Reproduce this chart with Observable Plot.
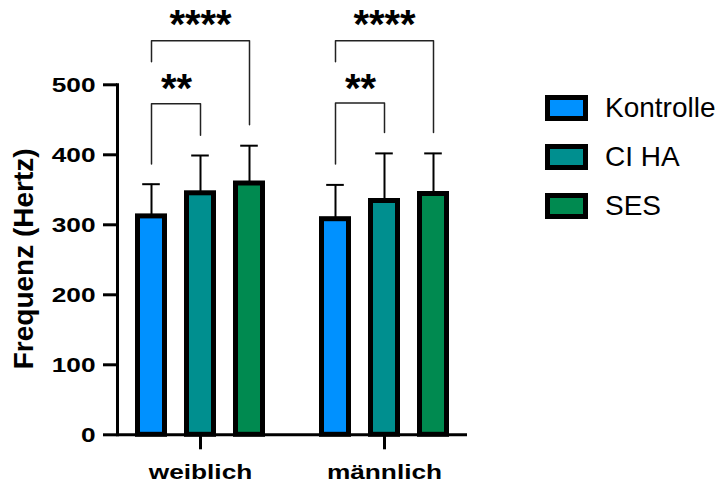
<!DOCTYPE html>
<html><head><meta charset="utf-8">
<script src="https://cdn.jsdelivr.net/npm/d3@7"></script>
<script src="https://cdn.jsdelivr.net/npm/@observablehq/plot@0.6"></script>
<style>
html,body{margin:0;padding:0;background:#fff;}
#wrap{position:relative;width:719px;height:487px;font-family:"Liberation Sans",Arial,sans-serif;overflow:hidden;}
#wrap svg{position:absolute;left:0;top:0;}
.lrow{position:absolute;display:flex;align-items:center;height:26px;white-space:nowrap;}
.sw{box-sizing:border-box;width:43px;height:26px;border:5px solid #000;}
.lt{font-size:28px;line-height:26px;margin-left:17px;color:#000;}
</style></head><body><div id="wrap"></div>
<script>
// ---- data ----
const groups = ["weiblich", "männlich"];
const series = ["Kontrolle", "CI HA", "SES"];
const colors = ["#0091ff", "#008f8f", "#008a50"];
const meanWeiblich = [312, 345, 359];
const sdWeiblich = [46, 54, 54];
const meanMaennlich = [308, 334, 344];
const sdMaennlich = [49, 68, 58];
const yTicks = [0, 100, 200, 300, 400, 500];
const yLabel = "Frequenz (Hertz)";
// significance brackets
const bracketGroup = ["weiblich", "weiblich", "männlich", "männlich"];
const bracketFrom = ["Kontrolle", "Kontrolle", "Kontrolle", "Kontrolle"];
const bracketTo = ["CI HA", "SES", "CI HA", "SES"];
const bracketTop = [473, 563, 474, 563];
const bracketFromEnd = [387, 533, 387, 533];
const bracketToEnd = [428, 443, 432, 432];
const bracketLabel = ["**", "****", "**", "****"];
const bracketLabelY = [494, 585, 494, 585];

// ---- derived tables ----
const rows = [];
groups.forEach((g, gi) => series.forEach((s, si) => {
  const m = gi === 0 ? meanWeiblich[si] : meanMaennlich[si];
  const sd = gi === 0 ? sdWeiblich[si] : sdMaennlich[si];
  rows.push({group: g, series: s, mean: m, upper: m + sd});
}));
const bracketPts = [];
bracketGroup.forEach((g, i) => {
  bracketPts.push(
    {id: i, group: g, x: bracketFrom[i], y: bracketFromEnd[i]},
    {id: i, group: g, x: bracketFrom[i], y: bracketTop[i]},
    {id: i, group: g, x: bracketTo[i], y: bracketTop[i]},
    {id: i, group: g, x: bracketTo[i], y: bracketToEnd[i]});
});
const labels = bracketGroup.map((g, i) => {
  const a = series.indexOf(bracketFrom[i]), b = series.indexOf(bracketTo[i]);
  const mid = (a + b) / 2;
  return {group: g, x: series[Math.floor(mid)], half: mid % 1 !== 0, y: bracketLabelY[i], text: bracketLabel[i]};
});

// ---- layout ----
const W = 719, H = 487;
const ML = 116.5, MR = 252.5, MT = 84.3, MB = 52.7;
const FX_PAD = 18 / 184;
const X_PI = 0.452, X_PO = 0.386;
const fxStep = (W - ML - MR) / (groups.length - FX_PAD);
const facetBand = fxStep * (1 - FX_PAD);
const STEP = facetBand / (series.length - X_PI + 2 * X_PO);
const GAP = fxStep - facetBand;

const font = '"Liberation Sans", Arial, sans-serif';
const chart = Plot.plot({
  width: W, height: H,
  marginLeft: ML, marginRight: MR, marginTop: MT, marginBottom: MB,
  style: {fontFamily: font, color: "#000", background: "transparent", overflow: "visible"},
  fx: {domain: groups, paddingInner: FX_PAD, paddingOuter: 0, label: null},
  x: {domain: series, paddingInner: X_PI, paddingOuter: X_PO, axis: null},
  y: {domain: [0, 500]},
  color: {domain: series, range: colors},
  marks: [
    Plot.ruleY([{group: groups[0]}], {fx: "group", y: () => 0, stroke: "#000", strokeWidth: 3, insetRight: -GAP}),
    Plot.ruleY([{group: groups[1]}], {fx: "group", y: () => 0, stroke: "#000", strokeWidth: 3}),
    Plot.frame({anchor: "left", facetAnchor: "left", stroke: "#000", strokeWidth: 3}),
    Plot.axisY({ticks: yTicks, tickSize: 14, tickPadding: 8, strokeWidth: 3, label: null, fontSize: 21, fontWeight: "bold"}),
    Plot.axisFx({anchor: "bottom", tickSize: 15, tickPadding: 14, strokeWidth: 3, label: null, fontSize: 21, fontWeight: "bold"}),
    Plot.text([{group: groups[0], t: yLabel}], {fx: "group", text: "t", frameAnchor: "left", textAnchor: "middle", rotate: -90, dx: -93, dy: -1, fontSize: 28, fontWeight: "bold", fill: "#000", lineAnchor: "middle"}),
    Plot.ruleX(rows, {fx: "group", x: "series", y1: "mean", y2: "upper", stroke: "#000", strokeWidth: 2}),
    Plot.tickY(rows, {fx: "group", x: "series", y: "upper", stroke: "#000", strokeWidth: 2, inset: 4.7}),
    Plot.barY(rows, {fx: "group", x: "series", y: "mean", fill: "series", stroke: "#000", strokeWidth: 5}),
    Plot.line(bracketPts, {fx: "group", x: "x", y: "y", z: "id", stroke: "#222", strokeWidth: 1.5}),
    Plot.text(labels.filter(d => d.half), {fx: "group", x: "x", y: "y", text: "text", dx: STEP / 2, fontSize: 40, fontWeight: "bold", fill: "#000"}),
    Plot.text(labels.filter(d => !d.half), {fx: "group", x: "x", y: "y", text: "text", fontSize: 40, fontWeight: "bold", fill: "#000"})
  ]
});
const wrap = document.getElementById("wrap");
wrap.appendChild(chart);

// bold axis labels, horizontally widened as in the reference
function stretch(sel, k) {
  chart.querySelectorAll(sel).forEach(t => {
    t.style.fontWeight = "bold";
    t.style.fontSize = "21px";
    const tr = t.getAttribute("transform") || "";
    t.setAttribute("transform", `${tr} scale(${k},1)`);
  });
}
stretch('g[aria-label="y-axis tick label"] text', 1.25);
stretch('g[aria-label="fx-axis tick label"] text', 1.25);

// legend
series.forEach((s, i) => {
  const row = document.createElement("div");
  row.className = "lrow";
  row.style.left = "545px";
  row.style.top = (95 + 49 * i) + "px";
  const sw = document.createElement("div");
  sw.className = "sw"; sw.style.background = colors[i];
  const lt = document.createElement("span");
  lt.className = "lt"; lt.textContent = s;
  row.appendChild(sw); row.appendChild(lt);
  wrap.appendChild(row);
});
</script></body></html>
